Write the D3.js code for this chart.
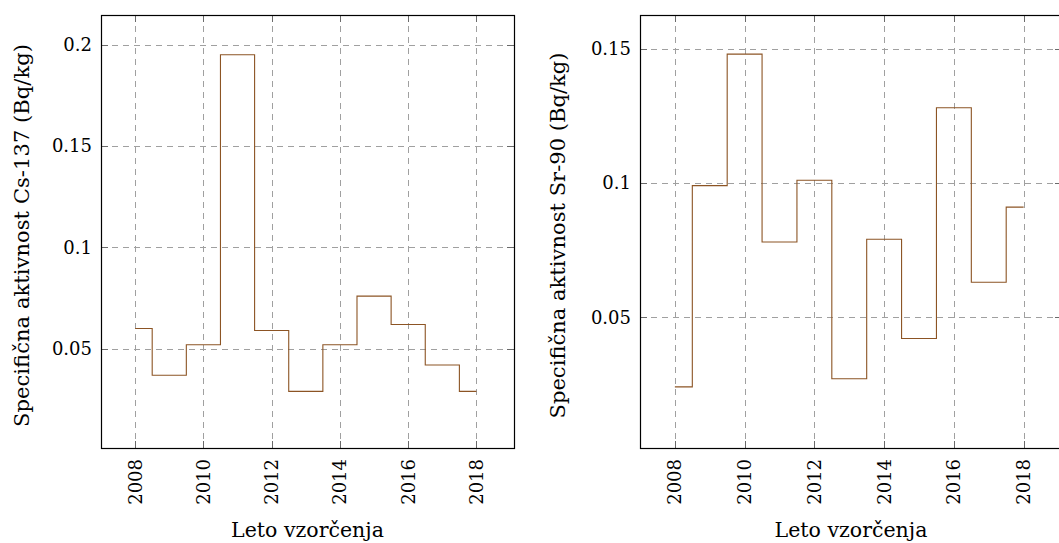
<!DOCTYPE html>
<html>
<head>
<meta charset="utf-8">
<script src="https://cdn.jsdelivr.net/npm/d3@7"></script>
<style>
  body { margin: 0; background: #fff; }
</style>
</head>
<body>
<div id="chart"></div>
<script>
// Data
const years = [2008, 2009, 2010, 2011, 2012, 2013, 2014, 2015, 2016, 2017, 2018];
const cs137 = [0.060, 0.037, 0.052, 0.195, 0.059, 0.029, 0.052, 0.076, 0.062, 0.042, 0.029];
const sr90  = [0.024, 0.099, 0.148, 0.078, 0.101, 0.027, 0.079, 0.042, 0.128, 0.063, 0.091];
const xTicks = [2008, 2010, 2012, 2014, 2016, 2018];
const csTicks = [0.05, 0.1, 0.15, 0.2];
const srTicks = [0.05, 0.1, 0.15];

const width = 1059;
const height = 543;
const lineColor = "#8c5424";
const gridColor = "#a0a0a0";
const fontFamily = "'DejaVu Serif', serif";

const svg = d3.select("#chart")
  .append("svg")
    .attr("width", width)
    .attr("height", height)
    .attr("font-family", fontFamily)
    .style("display", "block");

const drawPanel = (opts) => {
  const { left, right, top, bottom, values, yDomain, yTicks, yLabel, yLabelX, yLabelLen } = opts;

  const x = d3.scaleLinear().domain([2007.0, 2019.1]).range([left, right]);
  const y = d3.scaleLinear().domain(yDomain).range([bottom, top]);

  const g = svg.append("g");

  // clip so the grid stays inside the frame
  const clipId = "clip" + Math.round(left);
  g.append("clipPath").attr("id", clipId)
    .append("rect")
      .attr("x", left).attr("y", top)
      .attr("width", right - left).attr("height", bottom - top);

  // ------ grid ------- //
  const grid = g.append("g").attr("clip-path", `url(#${clipId})`);
  grid.selectAll(".vgrid")
    .data(xTicks)
    .join("line")
      .attr("x1", d => Math.round(x(d)) + 0.5)
      .attr("x2", d => Math.round(x(d)) + 0.5)
      .attr("y1", top)
      .attr("y2", bottom)
      .attr("stroke", gridColor)
      .attr("stroke-dasharray", "6,5");
  grid.selectAll(".hgrid")
    .data(yTicks)
    .join("line")
      .attr("y1", d => Math.round(y(d)) + 0.5)
      .attr("y2", d => Math.round(y(d)) + 0.5)
      .attr("x1", left)
      .attr("x2", right)
      .attr("stroke", gridColor)
      .attr("stroke-dasharray", "6,5");

  // ------ tick marks (inside, both sides) ------- //
  const tl = 7;
  const ticks = g.append("g").attr("stroke", "#6a6a6a").attr("stroke-width", 1);
  xTicks.forEach(t => {
    const px = Math.round(x(t)) + 0.5;
    ticks.append("line").attr("x1", px).attr("x2", px).attr("y1", bottom).attr("y2", bottom - tl);
    ticks.append("line").attr("x1", px).attr("x2", px).attr("y1", top).attr("y2", top + tl);
  });
  yTicks.forEach(t => {
    const py = Math.round(y(t)) + 0.5;
    ticks.append("line").attr("y1", py).attr("y2", py).attr("x1", left).attr("x2", left + tl);
    ticks.append("line").attr("y1", py).attr("y2", py).attr("x1", right).attr("x2", right - tl);
  });

  // ------ step line (steps centred on each year) ------- //
  const line = d3.line()
    .x((d, i) => x(years[i]))
    .y(d => y(d))
    .curve(d3.curveStep);
  g.append("path")
    .attr("d", line(values))
    .attr("fill", "none")
    .attr("stroke", lineColor)
    .attr("stroke-width", 1.1);

  // ------ frame ------- //
  g.append("rect")
    .attr("x", left + 0.5)
    .attr("y", top + 0.5)
    .attr("width", right - left)
    .attr("height", bottom - top)
    .attr("fill", "none")
    .attr("stroke", "#000")
    .attr("stroke-width", 1.2);

  // ------ tick labels ------- //
  g.selectAll(".xlab")
    .data(xTicks)
    .join("text")
      .attr("transform", d => `translate(${x(d)}, ${bottom + 11}) rotate(-90)`)
      .attr("text-anchor", "end")
      .attr("dy", "0.36em")
      .attr("font-size", 18)
      .text(d => d);
  g.selectAll(".ylab")
    .data(yTicks)
    .join("text")
      .attr("x", left - 9)
      .attr("y", d => y(d))
      .attr("dy", "0.36em")
      .attr("text-anchor", "end")
      .attr("font-size", 18)
      .text(d => String(d));

  // ------ axis titles ------- //
  g.append("text")
    .attr("x", (left + right) / 2)
    .attr("y", 537)
    .attr("text-anchor", "middle")
    .attr("font-size", 20.5)
    .text("Leto vzorčenja");
  g.append("text")
    .attr("transform", `translate(${yLabelX}, ${(top + bottom) / 2 + 4}) rotate(-90)`)
    .attr("text-anchor", "middle")
    .attr("font-size", 21)
    .attr("textLength", yLabelLen)
    .attr("lengthAdjust", "spacing")
    .text(yLabel);
};

drawPanel({
  left: 101, right: 514, top: 15, bottom: 448,
  values: cs137,
  yDomain: [0.0011, 0.2146],
  yTicks: csTicks,
  yLabel: "Specifična aktivnost Cs-137 (Bq/kg)",
  yLabelX: 29,
  yLabelLen: 383
});

drawPanel({
  left: 640, right: 1062, top: 15, bottom: 448,
  values: sr90,
  yDomain: [0.0012, 0.1626],
  yTicks: srTicks,
  yLabel: "Specifična aktivnost Sr-90 (Bq/kg)",
  yLabelX: 565,
  yLabelLen: 366
});
</script>
</body>
</html>
